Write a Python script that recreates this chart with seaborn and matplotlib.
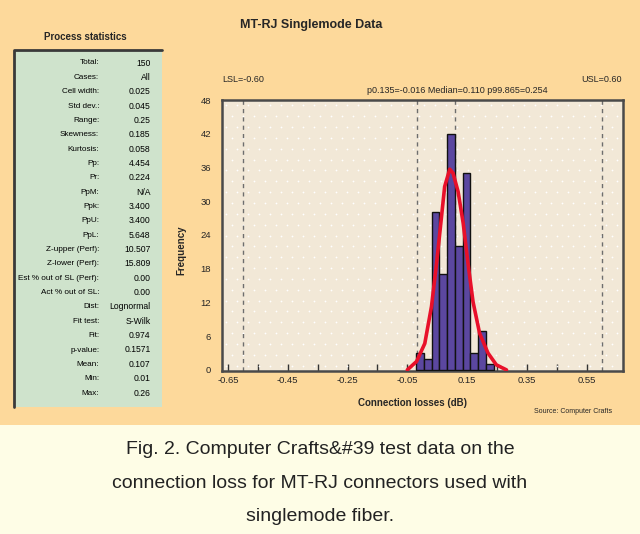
import numpy as np
import pandas as pd
import matplotlib
matplotlib.use("Agg")
import matplotlib.pyplot as plt
from matplotlib.patches import Rectangle
import matplotlib.transforms as mtransforms
import seaborn as sb

# histogram
bin_centers = [-0.008, 0.018, 0.044, 0.070, 0.096, 0.122, 0.148, 0.174, 0.200, 0.226]
counts = [3, 2, 28, 17, 42, 22, 35, 3, 7, 1]
cell_width = 0.026

# fitted curve
curve_x = [-0.050, -0.019, 0.0085, 0.031, 0.048, 0.061, 0.075, 0.092, 0.103, 0.120,
           0.137, 0.153, 0.170, 0.192, 0.220, 0.248, 0.282]
curve_y = [0.0, 1.5, 4.7, 11.3, 19.0, 25.5, 32.6, 35.7, 35.0, 31.7,
           26.1, 19.0, 12.1, 6.5, 3.0, 0.9, 0.0]

spec_lines = [-0.60, -0.016, 0.110, 0.60]
x_ticks = [-0.65, -0.45, -0.25, -0.05, 0.15, 0.35, 0.55]
x_minor = [-0.55, -0.35, -0.15, 0.05, 0.25, 0.45]
y_ticks = [0, 6, 12, 18, 24, 30, 36, 42, 48]

stat_names = ["Total:", "Cases:", "Cell width:", "Std dev.:", "Range:", "Skewness:",
              "Kurtosis:", "Pp:", "Pr:", "PpM:", "Ppk:", "PpU:", "PpL:",
              "Z-upper (Perf):", "Z-lower (Perf):", "Est % out of SL (Perf):",
              "Act % out of SL:", "Dist:", "Fit test:", "Fit:", "p-value:",
              "Mean:", "Min:", "Max:"]
stat_values = ["150", "All", "0.025", "0.045", "0.25", "0.185", "0.058", "4.454",
               "0.224", "N/A", "3.400", "3.400", "5.648", "10.507", "15.809",
               "0.00", "0.00", "Lognormal", "S-Wilk", "0.974", "0.1571", "0.107",
               "0.01", "0.26"]

caption = ("Fig. 2. Computer Crafts&#39 test data on the\n"
           "connection loss for MT-RJ connectors used with\n"
           "singlemode fiber.")

sb.set_style("white")
plt.rcParams['font.family'] = ["Liberation Sans", "DejaVu Sans"]

fig = plt.figure(figsize=(6.4, 5.34), dpi=100)
fig.patch.set_facecolor("#FDD99B")

# caption band
fig.patches.append(Rectangle((0, 0), 1, 0.204, transform=fig.transFigure,
                             facecolor="#FEFDE6", edgecolor="none", zorder=0))
fig.text(0.5, 0.0955, caption, ha="center", va="center", fontsize=14,
         color="#222222", linespacing=2.3)

# statistics box
fig.patches.append(Rectangle((0.022, 0.238), 0.231, 0.668, transform=fig.transFigure,
                             facecolor="#CFE3CC", edgecolor="none", zorder=1))
fig.lines.append(plt.Line2D([0.022, 0.022, 0.253], [0.238, 0.906, 0.906],
                            transform=fig.transFigure, color="#3A3A3A", lw=2))
fig.text(0.133, 0.930, "Process statistics", ha="center", va="center",
         fontsize=7, fontweight="bold")
row_top = 1 - 63 / 534
row_step = 14.35 / 534
for i, (n, v) in enumerate(zip(stat_names, stat_values)):
    yy = row_top - i * row_step
    fig.text(0.155, yy, n, ha="right", va="center", fontsize=5.9, color="black")
    fig.text(0.235, yy, v, ha="right", va="center", fontsize=6.2, color="black")

# histogram
ax = fig.add_axes([0.347, 0.3052, 0.626, 0.5075])
ax.set_facecolor("#F2E8D7")

# dotted background texture
gx, gy = np.meshgrid(np.arange(0.01, 1.0, 0.0275), np.arange(0.02, 1.0, 0.04))
gx = gx + (np.arange(gx.shape[0])[:, None] % 2) * 0.0137
ax.scatter(gx.ravel(), gy.ravel(), s=1.6, color="white", linewidths=0,
           transform=ax.transAxes, zorder=1)

df = pd.DataFrame({"loss": bin_centers, "count": counts})
edges = [c - cell_width / 2 for c in bin_centers] + [bin_centers[-1] + cell_width / 2]
sb.histplot(data=df, x="loss", weights="count", bins=edges, ax=ax,
            color="#5B47A0", edgecolor="#111111", linewidth=1, alpha=1, zorder=3)
sb.lineplot(x=curve_x, y=curve_y, ax=ax, color="#E8102A", lw=2.6, sort=False, zorder=4)

for v in spec_lines:
    ax.axvline(v, color="#6E6E6E", ls=(0, (3, 3)), lw=1, zorder=2)

ax.set_xlim(-0.67, 0.671)
ax.set_ylim(-0.2, 48)
ax.set_xticks(x_ticks)
ax.set_xticklabels(["%.2f" % t for t in x_ticks])
ax.set_xticks(x_minor, minor=True)
ax.set_yticks(y_ticks)
ax.tick_params(axis="x", which="both", direction="in", length=5, width=1,
               color="#333333", labelsize=6.8, bottom=True)
ax.tick_params(axis="y", direction="out", length=0, labelsize=6.8, left=True, pad=8)
for s in ax.spines.values():
    s.set_color("#4A4A4A")
    s.set_linewidth(1.8)

ax.set_xlabel("Connection losses (dB)", fontsize=7, fontweight="bold")
ax.set_ylabel("Frequency", fontsize=7, fontweight="bold")
ax.xaxis.set_label_coords(0.476, -0.1)
ax.yaxis.set_label_coords(-0.09, 0.446)

trans = mtransforms.blended_transform_factory(ax.transData, ax.transAxes)
ax.text(-0.60, 1.075, "LSL=-0.60", transform=trans, ha="center", va="center", fontsize=6.5)
ax.text(0.60, 1.075, "USL=0.60", transform=trans, ha="center", va="center", fontsize=6.5)
ax.text(0.116, 1.035, "p0.135=-0.016 Median=0.110 p99.865=0.254", transform=trans,
        ha="center", va="center", fontsize=6.5)

fig.text(0.487, 0.953, "MT-RJ Singlemode Data", ha="center", va="center",
         fontsize=9, fontweight="bold")
fig.text(0.956, 0.230, "Source: Computer Crafts", ha="right", va="center", fontsize=5)

fig.savefig("out.png", dpi=100, facecolor=fig.get_facecolor())
